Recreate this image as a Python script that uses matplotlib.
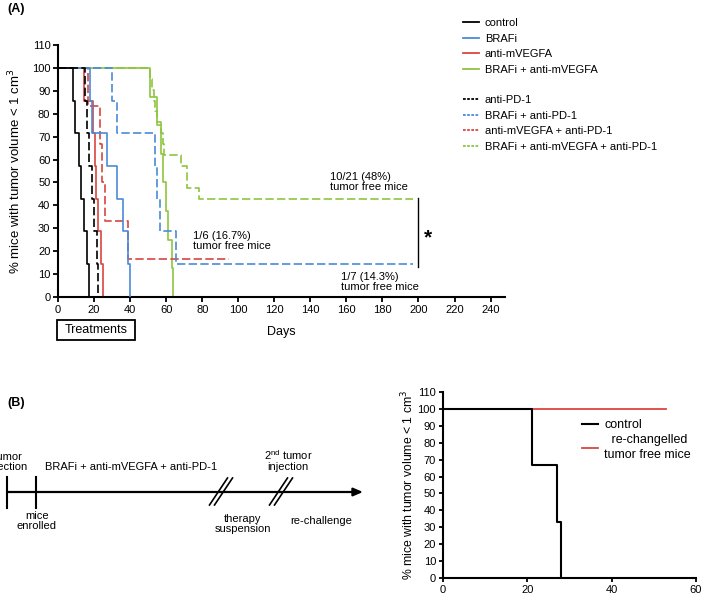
import matplotlib
matplotlib.use("Agg")
import matplotlib.pyplot as plt
from matplotlib.lines import Line2D
from matplotlib.patches import Rectangle

plt.rcParams["font.family"] = ["Liberation Sans", "DejaVu Sans"]
plt.rcParams["font.size"] = 8

# ---- data (A): step curves ----------------------------------------------
ctrl_t = [0, 8.5, 9.6, 11.8, 12.9, 14.5, 16, 17]
ctrl_y = [100, 85.7, 71.4, 57.1, 42.9, 28.6, 14.3, 0]
braf_t = [0, 17.8, 19, 27, 33, 36, 39, 40]
braf_y = [100, 85.7, 71.4, 57.1, 42.9, 28.6, 14.3, 0]
vegf_t = [0, 14.5, 19.5, 20.5, 21, 22.3, 23.8, 24.7]
vegf_y = [100, 85.7, 71.4, 57.1, 42.9, 28.6, 14.3, 0]
braf_vegf_t = [0, 51, 55, 57, 58.5, 60, 61, 63, 64]
braf_vegf_y = [100, 87.5, 75, 62.5, 50, 37.5, 25, 12.5, 0]
pd1_t = [0, 15, 16, 17, 19, 20, 21.5, 22]
pd1_y = [100, 85.7, 71.4, 57.1, 42.9, 28.6, 14.3, 0]
braf_pd1_t = [0, 30, 32.8, 54, 55, 56.7, 65.6, 197]
braf_pd1_y = [100, 85.7, 71.4, 57.1, 42.9, 28.6, 14.3, 14.3]
vegf_pd1_t = [0, 16.7, 23.3, 24.4, 26, 39, 95]
vegf_pd1_y = [100, 83.3, 66.7, 50, 33.3, 16.7, 16.7]
triple_t = [0, 51, 52, 53, 54, 55, 57, 58, 59, 68, 71.5, 78, 197]
triple_y = [100, 95.2, 90.5, 85.7, 81.0, 76.2, 71.4, 66.7, 61.9, 57.1, 47.6, 42.9, 42.9]

labels_solid = ["control", "BRAFi", "anti-mVEGFA", "BRAFi + anti-mVEGFA"]
labels_dash = ["anti-PD-1", "BRAFi + anti-PD-1", "anti-mVEGFA + anti-PD-1",
               "BRAFi + anti-mVEGFA + anti-PD-1"]

# ---- data (B) -------------------------------------------------------------
rc_ctrl_t = [0, 21, 27, 28]
rc_ctrl_y = [100, 66.7, 33.3, 0]
rc_free_t = [0, 53]
rc_free_y = [100, 100]
timeline_ticks = [7, 36]        # tumor injection, mice enrolled
timeline_breaks = [221, 281]    # therapy suspension, 2nd tumor injection

BLACK, BLUE, RED, GREEN = "#000000", "#4A8AD8", "#D9463F", "#8DC540"
colors = [BLACK, BLUE, RED, GREEN]
DASH = (0, (5, 2))

W, H = 709, 597
fig = plt.figure(figsize=(W / 100, H / 100), dpi=100)

def fx(px):
    return px / W

def fy(py):
    return 1 - py / H

# ---- panel A --------------------------------------------------------------
ax = fig.add_axes([fx(58), fy(297), fx(505 - 58), (297 - 45) / H])
lw = 1.2
curves = [
    (braf_vegf_t, braf_vegf_y, GREEN, "-", 1),
    (triple_t, triple_y, GREEN, DASH, 1),
    (vegf_t, vegf_y, RED, "-", 2),
    (vegf_pd1_t, vegf_pd1_y, RED, DASH, 2),
    (braf_pd1_t, braf_pd1_y, BLUE, DASH, 3),
    (braf_t, braf_y, BLUE, "-", 3),
    (pd1_t, pd1_y, BLACK, DASH, 4),
    (ctrl_t, ctrl_y, BLACK, "-", 4),
]
for t, y, c, ls, z in curves:
    ax.plot(t, y, drawstyle="steps-post", color=c, ls=ls, lw=lw, zorder=z)

ax.set_xlim(0, 248)
ax.set_ylim(0, 110)
ax.set_xticks(range(0, 241, 20))
ax.set_yticks(range(0, 111, 10))
for s in ["top", "right"]:
    ax.spines[s].set_visible(False)
for s in ["left", "bottom"]:
    ax.spines[s].set_linewidth(1.5)
ax.tick_params(direction="out", length=3.5, width=1.3, labelsize=8, pad=2)
ax.set_ylabel("% mice with tumor volume < 1 cm$^3$", fontsize=9.5, labelpad=6)
ax.set_xlabel("Days", fontsize=9, labelpad=8)

ax.text(151, 50, "10/21 (48%)\ntumor free mice", fontsize=8, va="center",
        ha="left", linespacing=1.0)
ax.text(75, 24.5, "1/6 (16.7%)\ntumor free mice", fontsize=8, va="center",
        ha="left", linespacing=1.0)
ax.text(157, 6.5, "1/7 (14.3%)\ntumor free mice", fontsize=8, va="center",
        ha="left", linespacing=1.0)
ax.plot([199.5, 199.5], [43, 13], color="k", lw=1.0, clip_on=False)
ax.text(205.5, 26, "*", fontsize=15, fontweight="bold", ha="center",
        va="center")

fig.patches.append(Rectangle((fx(57), fy(340)), fx(78), 20 / H, fill=False,
                             lw=1.3, transform=fig.transFigure))
fig.text(fx(96), fy(330), "Treatments", fontsize=9, ha="center", va="center")

h1 = [Line2D([], [], color=c, lw=1.3) for c in colors]
h2 = [Line2D([], [], color=c, lw=1.3, ls=(0, (1.5, 0.8))) for c in colors]
leg_kw = dict(frameon=False, fontsize=8, handlelength=1.45, handletextpad=0.5,
              labelspacing=0.5, borderpad=0, borderaxespad=0, loc="upper left",
              bbox_transform=fig.transFigure)
leg1 = fig.legend(h1, labels_solid, bbox_to_anchor=(fx(463), fy(18)), **leg_kw)
leg2 = fig.legend(h2, labels_dash, bbox_to_anchor=(fx(463), fy(95)), **leg_kw)

fig.text(fx(7), fy(9), "(A)", fontsize=9, fontweight="bold", va="center")
fig.text(fx(7), fy(403), "(B)", fontsize=9, fontweight="bold", va="center")

# ---- panel B: timeline ---------------------------------------------------
tl = fig.add_axes([0, fy(545), fx(376), (545 - 440) / H])
tl.set_xlim(0, 376)
tl.set_ylim(545, 440)
tl.axis("off")
tl.annotate("", xy=(363, 492), xytext=(timeline_ticks[0], 492),
            arrowprops=dict(arrowstyle="-|>,head_length=0.7,head_width=0.3",
                            lw=1.6, color="k", shrinkA=0, shrinkB=0))
for x in timeline_ticks:
    tl.plot([x, x], [477, 508], color="k", lw=1.5)
for x in timeline_breaks:
    for dx in (-2.5, 2.5):
        tl.plot([x + dx - 9, x + dx + 9], [505, 478], color="k", lw=1.2)
# the reference crops this label at the left edge of the figure
tl.text(7, 462, "Tumor\ninjection", ha="center", va="center", fontsize=8,
        linespacing=1.0)
tl.text(45, 467, "BRAFi + anti-mVEGFA + anti-PD-1", ha="left", va="center",
        fontsize=8)
tl.text(37, 521, "mice\nenrolled", ha="center", va="center", fontsize=8,
        linespacing=1.0)
tl.text(243, 524, "therapy\nsuspension", ha="center", va="center", fontsize=8,
        linespacing=1.0)
tl.text(321, 521, "re-challenge", ha="center", va="center", fontsize=8)
tl.text(288, 460, "2$^{\\mathregular{nd}}$ tumor\ninjection", ha="center",
        va="center", fontsize=8, linespacing=1.0)

# ---- panel B: re-challenge curve -------------------------------------------
bx = fig.add_axes([fx(443), fy(578), fx(696 - 443), (578 - 392) / H])
bx.plot(rc_free_t, rc_free_y, color=RED, lw=1.3, label=" re-changelled\ntumor free mice")
bx.plot(rc_ctrl_t, rc_ctrl_y, drawstyle="steps-post", color=BLACK, lw=1.5,
        label="control")
bx.set_xlim(0, 60)
bx.set_ylim(0, 110)
bx.set_xticks([0, 20, 40, 60])
bx.set_yticks(range(0, 111, 10))
for s in ["top", "right"]:
    bx.spines[s].set_visible(False)
for s in ["left", "bottom"]:
    bx.spines[s].set_linewidth(1.5)
bx.tick_params(direction="out", length=3, width=1.3, labelsize=8, pad=2)
bx.set_ylabel("% mice with tumor volume < 1 cm$^3$", fontsize=8.8, labelpad=1)
hb, lb = bx.get_legend_handles_labels()
legb = bx.legend(hb[::-1], lb[::-1], frameon=False, fontsize=9,
                 handlelength=1.3, handletextpad=0.5, labelspacing=0.25,
                 borderpad=0, borderaxespad=0, loc="upper left",
                 bbox_to_anchor=(fx(582), fy(419)),
                 bbox_transform=fig.transFigure)
for txt in legb.get_texts():
    txt.set_multialignment("center")
    txt.set_linespacing(1.3)

fig.savefig("out.png", dpi=100)
